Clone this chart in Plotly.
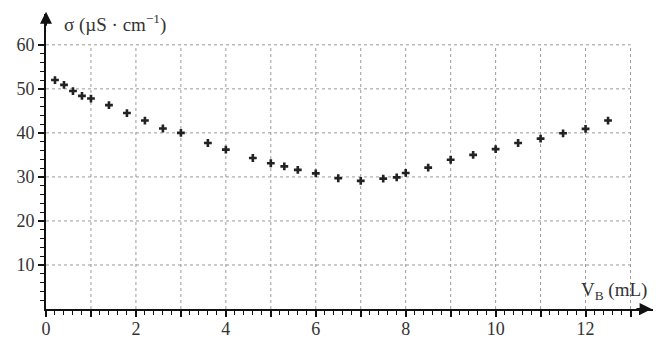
import plotly.graph_objects as go

# Data
vb = [0.2, 0.4, 0.6, 0.8, 1.0, 1.4, 1.8, 2.2, 2.6, 3.0, 3.6, 4.0,
      4.6, 5.0, 5.3, 5.6, 6.0, 6.5, 7.0, 7.5, 7.8, 8.0, 8.5, 9.0,
      9.5, 10.0, 10.5, 11.0, 11.5, 12.0, 12.5]
sigma = [52.0, 50.9, 49.5, 48.4, 47.8, 46.3, 44.5, 42.8, 41.0, 40.0, 37.7, 36.2,
         34.3, 33.1, 32.4, 31.6, 30.8, 29.7, 29.1, 29.6, 29.9, 30.9, 32.1, 33.9,
         35.0, 36.3, 37.7, 38.7, 39.9, 40.9, 42.8]

x_major = list(range(0, 14))
x_labels = [str(v) if v % 2 == 0 and v <= 12 else "" for v in x_major]
x_minor = [round(i * 0.2, 1) for i in range(1, 67) if i % 5 != 0]
y_major = [10, 20, 30, 40, 50, 60]
y_labels = [str(v) for v in y_major]
y_minor = [v for v in range(2, 60, 2) if v % 10 != 0]
grid_x = list(range(1, 14))
grid_y = [10, 20, 30, 40, 50, 60]

serif = "Liberation Serif"

fig = go.Figure()
fig.add_trace(go.Scatter(
    x=vb, y=sigma, mode="markers",
    marker=dict(symbol="cross", size=6.5, color="#222"),
    cliponaxis=False, showlegend=False,
))

shapes = []
for gx in grid_x:
    shapes.append(dict(type="line", xref="x", yref="y", x0=gx, x1=gx, y0=0, y1=60,
                       line=dict(color="#9a9a9a", width=1, dash="dot"), layer="below"))
for gy in grid_y:
    shapes.append(dict(type="line", xref="x", yref="y", x0=0, x1=13, y0=gy, y1=gy,
                       line=dict(color="#9a9a9a", width=1, dash="dot"), layer="below"))

fig.update_layout(
    width=656, height=330,
    margin=dict(l=38, r=10.5, t=6, b=29),
    paper_bgcolor="white", plot_bgcolor="white",
    font=dict(family=serif, size=18, color="#333"),
    shapes=shapes,
    xaxis=dict(
        range=[0, 13.5], showgrid=False, zeroline=False, automargin=False,
        showline=True, linecolor="#111", linewidth=2,
        tickmode="array", tickvals=x_major, ticktext=x_labels,
        ticks="outside", ticklen=6, tickwidth=1.5, tickcolor="#111",
        ticklabelstandoff=-4,
        minor=dict(tickmode="array", tickvals=x_minor, ticks="outside",
                   ticklen=4, tickwidth=1.2, tickcolor="#111", showgrid=False),
        tickfont=dict(family=serif, size=18, color="#333"),
        fixedrange=True,
    ),
    yaxis=dict(
        range=[0, 67], showgrid=False, zeroline=False, automargin=False,
        showline=True, linecolor="#111", linewidth=2,
        tickmode="array", tickvals=y_major, ticktext=y_labels,
        ticks="outside", ticklen=6, tickwidth=1.5, tickcolor="#111",
        minor=dict(tickmode="array", tickvals=y_minor, ticks="outside",
                   ticklen=4, tickwidth=1.2, tickcolor="#111", showgrid=False),
        tickfont=dict(family=serif, size=18, color="#333"),
        fixedrange=True,
    ),
    annotations=[
        dict(x=13.47, y=0, ax=13.1, ay=0, xref="x", yref="y", axref="x", ayref="y",
             showarrow=True, arrowhead=2, arrowsize=1.2, arrowwidth=2, arrowcolor="#111", text=""),
        dict(x=0, y=67.5, ax=0, ay=64, xref="x", yref="y", axref="x", ayref="y",
             showarrow=True, arrowhead=2, arrowsize=1.2, arrowwidth=2, arrowcolor="#111", text=""),
        dict(x=0.35, y=64.9, xref="x", yref="y", xanchor="left", yanchor="middle",
             text="σ (µS · cm<sup>−1</sup>)", showarrow=False,
             font=dict(family=serif, size=19, color="#333")),
        dict(x=13.4, y=4.0, xref="x", yref="y", xanchor="right", yanchor="middle",
             text="V<sub>B</sub> (mL)", showarrow=False,
             font=dict(family=serif, size=19, color="#333")),
    ],
)

fig.write_html("out.html")
